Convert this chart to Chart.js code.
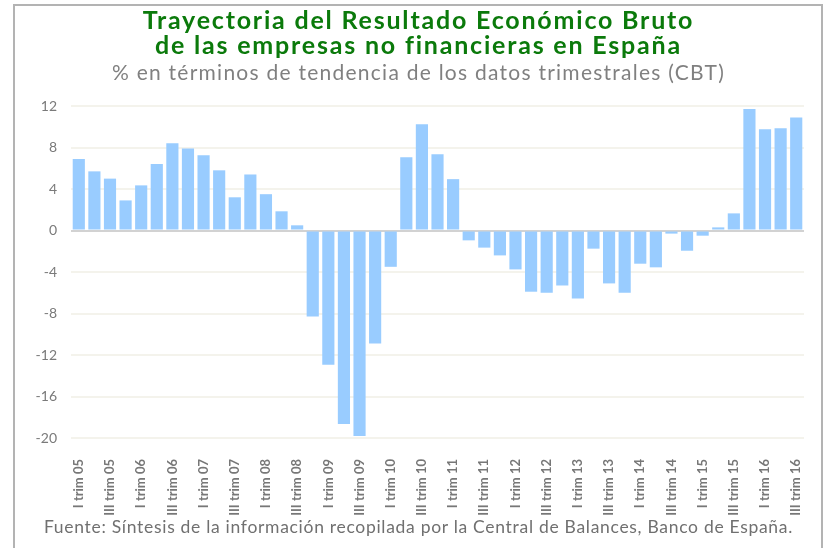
<!DOCTYPE html>
<html>
<head>
<meta charset="utf-8">
<script src="https://cdn.jsdelivr.net/npm/chart.js@4/dist/chart.umd.min.js"></script>
<style>
body{margin:0;background:#fff;}
#wrap{position:relative;width:825px;height:548px;overflow:hidden;font-family:Lato,"Open Sans",sans-serif;}
#frame{position:absolute;left:13px;top:4px;width:806px;height:600px;border:2px solid #b3b3b3;pointer-events:none;}
.txt{position:absolute;left:0;width:825px;padding-left:12px;box-sizing:border-box;text-align:center;white-space:nowrap;}
#t1{top:7px;font-size:25px;font-weight:bold;line-height:25px;color:#0b7a0b;letter-spacing:1.8px;}
#t2{top:60px;font-size:21px;line-height:24px;color:#808080;letter-spacing:1.25px;}
#src{top:516px;font-size:17.5px;line-height:22px;color:#707070;letter-spacing:0.7px;}
canvas{position:absolute;left:0;top:0;}
</style>
</head>
<body>
<div id="wrap">
<canvas id="chart" width="825" height="548"></canvas>
<div id="frame"></div>
<div class="txt" id="t1">Trayectoria del Resultado Económico Bruto<br>de las empresas no financieras en España</div>
<div class="txt" id="t2">% en términos de tendencia de los datos trimestrales (CBT)</div>
<div class="txt" id="src">Fuente: Síntesis de la información recopilada por la Central de Balances, Banco de España.</div>
</div>
<script>
const quarters=[
'I trim 05','II trim 05','III trim 05','IV trim 05',
'I trim 06','II trim 06','III trim 06','IV trim 06',
'I trim 07','II trim 07','III trim 07','IV trim 07',
'I trim 08','II trim 08','III trim 08','IV trim 08',
'I trim 09','II trim 09','III trim 09','IV trim 09',
'I trim 10','II trim 10','III trim 10','IV trim 10',
'I trim 11','II trim 11','III trim 11','IV trim 11',
'I trim 12','II trim 12','III trim 12','IV trim 12',
'I trim 13','II trim 13','III trim 13','IV trim 13',
'I trim 14','II trim 14','III trim 14','IV trim 14',
'I trim 15','II trim 15','III trim 15','IV trim 15',
'I trim 16','II trim 16','III trim 16'];
const reb=[6.9,5.7,5.0,2.9,4.35,6.4,8.4,7.9,7.25,5.8,3.2,5.4,3.5,1.85,0.5,-8.3,
-12.95,-18.65,-19.8,-10.9,-3.5,7.05,10.25,7.35,4.95,-0.95,-1.65,-2.4,-3.75,-5.9,-6.0,
-5.3,-6.55,-1.75,-5.1,-6.0,-3.2,-3.55,-0.3,-1.95,-0.5,0.3,1.65,11.7,9.75,9.85,10.9];
const yTicks=[-20,-16,-12,-8,-4,0,4,8,12];

new Chart(document.getElementById('chart'),{
 type:'bar',
 data:{labels:quarters,datasets:[{data:reb,backgroundColor:'#99ccff',barPercentage:0.78,categoryPercentage:1}]},
 options:{
  responsive:false,animation:false,
  layout:{padding:{left:0,right:17,top:106,bottom:30}},
  plugins:{legend:{display:false},tooltip:{enabled:false}},
  scales:{
   x:{
    grid:{display:false},border:{display:false},
    afterFit:s=>{s.height=80;},
    ticks:{autoSkip:false,minRotation:90,maxRotation:90,padding:13,color:'#777',
     font:{family:'Lato',size:13,weight:'bold'},
     callback:(v,i)=>i%2===0?quarters[i]:''}
   },
   y:{
    min:-20,max:12,
    afterFit:s=>{s.width=71;},
    afterBuildTicks:s=>{s.ticks=yTicks.map(v=>({value:v}));},
    border:{display:false},
    grid:{drawTicks:false,lineWidth:2,color:c=>c.tick&&c.tick.value===0?'#d2d2d2':'#f4f3ec'},
    ticks:{padding:14,color:'#7a7a7a',font:{family:'Lato',size:14}}
   }
  }
 }
});
</script>
</body>
</html>
